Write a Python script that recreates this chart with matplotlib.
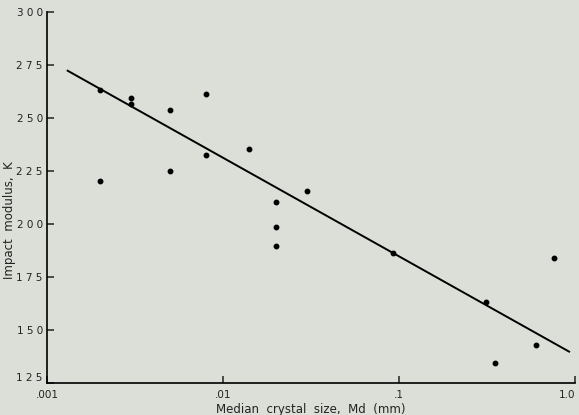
import numpy as np
import matplotlib.pyplot as plt

# crystal size (mm) vs impact modulus
md = [0.002, 0.002, 0.003, 0.003, 0.005, 0.005, 0.008, 0.008, 0.014,
      0.02, 0.02, 0.02, 0.030, 0.092, 0.31, 0.35, 0.60, 0.76]
k = [263, 220.5, 259.3, 256.5, 253.6, 225, 261.3, 232.5, 235.5,
     210.4, 198.7, 189.8, 215.6, 186.5, 163.2, 134.3, 142.9, 184]

# fitted line end points
fit_x = [0.00131, 0.925]
fit_y = [272.3, 139.8]

xticks = [0.001, 0.01, 0.1, 1.0]
xtick_labels = ['.001', '.01', '.1', '1.0']
yticks = [125, 150, 175, 200, 225, 250, 275, 300]
ytick_labels = ['1 2 5', '1 5 0', '1 7 5', '2 0 0', '2 2 5', '2 5 0', '2 7 5', '3 0 0']

bg = '#dcdfd7'
fig = plt.figure(figsize=(5.79, 4.15), dpi=100, facecolor=bg)
ax = fig.add_axes([0.0812, 0.0771, 0.912, 0.894], facecolor=bg)

ax.plot(fit_x, fit_y, color='black', lw=1.4)
ax.plot(md, k, 'o', color='black', markersize=3.2)

ax.set_xscale('log')
ax.set_xlim(0.001, 1.0)
ax.set_ylim(125, 300)
ax.minorticks_off()
ax.set_xticks(xticks)
ax.set_xticklabels(xtick_labels)
ax.set_yticks(yticks)
ax.set_yticklabels(ytick_labels)
# last x label sits against the right edge
ax.get_xticklabels()[-1].set_horizontalalignment('right')
ax.get_yticklabels()[0].set_verticalalignment('bottom')

for s in ['top', 'right']:
    ax.spines[s].set_visible(False)
for s in ['left', 'bottom']:
    ax.spines[s].set_linewidth(1.2)
ax.tick_params(direction='in', length=5, width=1.1, labelsize=7.5, colors='#222222', pad=3)
ax.tick_params(axis='x', pad=5)

ax.set_xlabel('Median  crystal  size,  Md  (mm)', fontsize=8.5, labelpad=2, color='#222222')
fig.text(0.016, 0.47, 'Impact  modulus,  K', rotation=90, fontsize=8.5,
         ha='center', va='center', color='#222222')

fig.savefig('out.png', dpi=100, facecolor=bg)
